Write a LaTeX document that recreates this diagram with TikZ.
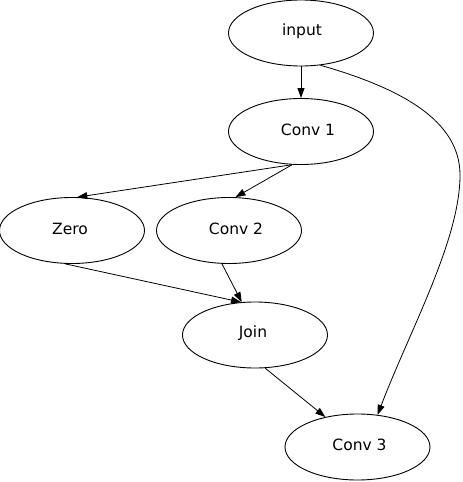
\documentclass[tikz,border=0pt]{standalone}
\usepackage{fontspec}
\setmainfont{DejaVu Sans}
\usetikzlibrary{shapes.geometric,arrows.meta}
\begin{document}
\begin{tikzpicture}[x=1pt,y=-1pt,
  ell/.style={ellipse,draw,line width=0.9pt,minimum width=145pt,minimum height=66pt,inner sep=0pt},
  txt/.style={font=\fontsize{15.5}{18}\selectfont},
  edge/.style={draw,line width=0.8pt,-{Triangle[length=10pt,width=7pt]}}]
\useasboundingbox (0,0) rectangle (463,482);
\node[ell] (input) at (301,33) {};
\node[txt] (tinput) at (302,31) {input};
\node[ell] (conv1) at (301,131.5) {};
\node[txt] (tconv1) at (308,129.5) {Conv 1};
\node[ell] (zero) at (72,230.5) {};
\node[txt] (tzero) at (70,228.5) {Zero};
\node[ell] (conv2) at (229,230.5) {};
\node[txt] (tconv2) at (236,228.5) {Conv 2};
\node[ell] (join) at (255,335) {};
\node[txt] (tjoin) at (253,333) {Join};
\node[ell] (conv3) at (357.5,447) {};
\node[txt] (tconv3) at (359.5,445) {Conv 3};

\draw[edge] (input) -- (conv1);
\draw[edge] (input.-59) .. controls (400,88) and (460,120) .. (460,175)
  .. controls (460,240) and (410,330) .. (conv3.58);
\draw[edge] (conv1.255) -- (zero.81);
\draw[edge] (conv1.255) -- (conv2.79);
\draw[edge] (zero.258) -- (join.113);
\draw[edge] (conv2.258) -- (join.112);
\draw[edge] (join.-73) -- (conv3.137);
\end{tikzpicture}
\end{document}
